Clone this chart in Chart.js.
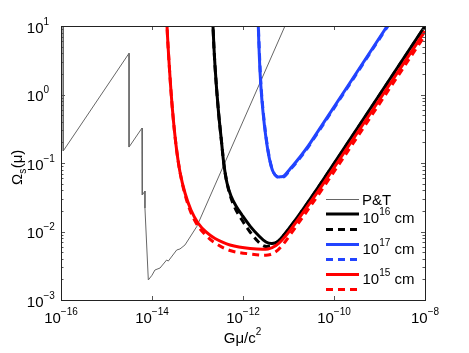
<!DOCTYPE html>
<html><head><meta charset="utf-8">
<script src="https://cdn.jsdelivr.net/npm/chart.js@4.4.1/dist/chart.umd.min.js"></script>
<style>html,body{margin:0;padding:0;background:#fff;} canvas{display:block;}</style>
</head><body>
<canvas id="c" width="469" height="353"></canvas>
<script>
// ---- tick labels ----
const xTickValues = [1e-16, 1e-14, 1e-12, 1e-10, 1e-8];
const xTickExps = ['\u221216', '\u221214', '\u221212', '\u221210', '\u22128'];
const yTickValues = [1e-3, 1e-2, 1e-1, 1, 10];
const yTickExps = ['\u22123', '\u22122', '\u22121', '0', '1'];

// ---- legend labels ----
const legendExps = ['', '16', '', '17', '', '15', ''];

// ---- series: P&T ----
const ptX = [1.12e-16, 1.12e-16, 3.13e-15, 3.13e-15, 6.03e-15, 6.12e-15, 7.0e-15, 7.0e-15, 8.3e-15, 1.0e-14, 1.16e-14, 1.5e-14, 2.1e-14, 2.28e-14, 3.49e-14, 4.12e-14, 5.31e-14, 9.6e-14, 2.43e-13, 8.37e-12];
const ptY = [10, 0.15, 4.0, 0.171, 0.324, 0.0341, 0.039, 0.022, 0.00196, 0.0023, 0.00274, 0.00293, 0.00384, 0.0037, 0.00537, 0.00556, 0.00636, 0.01175, 0.0478, 10];

// ---- series: 10^16 cm ----
const b16X = [2.15e-13, 2.19e-13, 2.43e-13, 2.87e-13, 3.40e-13, 3.82e-13, 4.45e-13, 5.45e-13, 7.02e-13, 9.5e-13, 1.43e-12, 2.14e-12, 3.2e-12, 4.34e-12, 5.88e-12, 7.57e-12, 1.08e-11, 1.79e-11, 5.73e-11, 1e-8];
const b16Y = [20, 10, 2.55, 0.594, 0.194, 0.0935, 0.0511, 0.033, 0.0236, 0.0174, 0.0120, 0.0089, 0.00703, 0.00668, 0.00715, 0.0086, 0.01164, 0.0183, 0.0565, 10];
const b16dX = [2.15e-13, 2.19e-13, 2.43e-13, 2.87e-13, 3.40e-13, 3.82e-13, 4.45e-13, 5.45e-13, 7.02e-13, 9.5e-13, 1.43e-12, 2.14e-12, 2.9e-12, 3.92e-12, 5.31e-12, 7.57e-12, 1.08e-11, 1.79e-11, 5.73e-11, 1e-8];
const b16dY = [20, 10, 2.55, 0.594, 0.194, 0.0935, 0.0511, 0.0308, 0.0206, 0.0147, 0.00984, 0.00715, 0.00614, 0.00614, 0.00679, 0.0085, 0.0115, 0.018, 0.0555, 9.85];

// ---- series: 10^17 cm ----
const b17X = [2.13e-12, 2.17e-12, 2.28e-12, 2.46e-12, 2.75e-12, 3.2e-12, 3.82e-12, 4.56e-12, 5.58e-12, 6.84e-12, 7.96e-12, 1.08e-11, 1.79e-11, 2.97e-11, 1.48e-9, 3e-9];
const b17Y = [20, 10, 3.78, 1.38, 0.556, 0.232, 0.114, 0.0751, 0.0635, 0.0629, 0.0646, 0.0817, 0.1225, 0.193, 10, 20];
const b17dX = [2.13e-12, 2.18e-12, 2.31e-12, 2.49e-12, 2.79e-12, 3.25e-12, 3.88e-12, 4.63e-12, 5.66e-12, 6.94e-12, 8.08e-12, 1.1e-11, 1.82e-11, 3.02e-11, 1.5e-9, 3e-9];
const b17dY = [20, 10, 3.7, 1.35, 0.545, 0.227, 0.112, 0.0738, 0.0624, 0.0618, 0.0635, 0.080, 0.120, 0.19, 9.8, 19.6];

// ---- series: 10^15 cm ----
const r15X = [2.12e-14, 2.14e-14, 2.43e-14, 2.82e-14, 3.37e-14, 4.12e-14, 5.31e-14, 7.19e-14, 1.026e-13, 1.54e-13, 2.43e-13, 5.17e-13, 1.43e-12, 3.54e-12, 5.31e-12, 7.57e-12, 1.08e-11, 5.73e-11, 1e-8];
const r15Y = [20, 10, 2.28, 0.594, 0.183, 0.074, 0.0365, 0.0206, 0.0133, 0.00984, 0.0079, 0.00636, 0.00565, 0.00556, 0.00625, 0.00778, 0.01035, 0.0493, 8.4];
const r15dX = [2.12e-14, 2.14e-14, 2.43e-14, 2.82e-14, 3.37e-14, 4.12e-14, 5.31e-14, 7.19e-14, 1.026e-13, 1.54e-13, 2.43e-13, 5.17e-13, 1.43e-12, 3.54e-12, 5.31e-12, 7.57e-12, 1.08e-11, 5.73e-11, 1e-8];
const r15dY = [20, 10, 2.28, 0.594, 0.183, 0.074, 0.0346, 0.0189, 0.0120, 0.00875, 0.00679, 0.00528, 0.0047, 0.00454, 0.0051, 0.00646, 0.0089, 0.0431, 7.3];

const pts = (xs, ys) => xs.map((x, i) => ({x, y: ys[i]}));

const FONT = '"Liberation Sans", Arial, Helvetica, sans-serif';
const fnt = s => s + 'px ' + FONT;
const BLUE = '#2244ff', RED = '#ff0000', GRAY = '#666666';

function drawPow(ctx, x, y, base, exp, suffix) {
  ctx.textAlign = 'left'; ctx.textBaseline = 'alphabetic';
  ctx.font = fnt(15); ctx.fillText(base, x, y);
  let w = ctx.measureText(base).width;
  ctx.font = fnt(10); ctx.fillText(exp, x + w, y - 8);
  w += ctx.measureText(exp).width;
  if (suffix) { ctx.font = fnt(15); ctx.fillText(suffix, x + w, y); w += ctx.measureText(suffix).width; }
  return w;
}
function powWidth(ctx, base, exp) {
  ctx.font = fnt(15); let w = ctx.measureText(base).width;
  ctx.font = fnt(10); w += ctx.measureText(exp).width; return w;
}

const deco = {
  id: 'deco',
  afterDraw(chart) {
    const {ctx, chartArea: a, scales: {x: xs, y: ys}} = chart;
    ctx.save();
    // ticks
    ctx.strokeStyle = '#555'; ctx.lineWidth = 1; ctx.setLineDash([]);
    ctx.beginPath();
    xTickValues.forEach(v => {
      const px = Math.round(xs.getPixelForValue(v)) + 0.5;
      ctx.moveTo(px, a.bottom); ctx.lineTo(px, a.bottom - 4);
      ctx.moveTo(px, a.top); ctx.lineTo(px, a.top + 4);
    });
    for (let e = -3; e <= 1; e++) {
      for (let m = 1; m <= 9; m++) {
        const v = m * Math.pow(10, e);
        if (v > 10.0001) break;
        const py = Math.round(ys.getPixelForValue(v)) + 0.5;
        const L = m === 1 ? 4 : 2.5;
        ctx.moveTo(a.left, py); ctx.lineTo(a.left + L, py);
        ctx.moveTo(a.right, py); ctx.lineTo(a.right - L, py);
      }
    }
    ctx.stroke();
    // frame
    ctx.strokeStyle = '#222';
    ctx.strokeRect(Math.round(a.left) + 0.5, Math.round(a.top) + 0.5, Math.round(a.right - a.left), Math.round(a.bottom - a.top));
    // tick labels
    ctx.fillStyle = '#000';
    xTickValues.forEach((v, i) => {
      const px = xs.getPixelForValue(v);
      const w = powWidth(ctx, '10', xTickExps[i]);
      drawPow(ctx, px - w / 2, a.bottom + 23, '10', xTickExps[i]);
    });
    yTickValues.forEach((v, i) => {
      const py = ys.getPixelForValue(v);
      ctx.font = fnt(15);
      const w10 = ctx.measureText('10').width;
      drawPow(ctx, 43.5 - w10, py + 6.5, '10', yTickExps[i]);
    });
    // x title
    ctx.font = fnt(15);
    const tw = ctx.measureText('G\u03bc/c').width; ctx.font = fnt(10);
    const tw2 = tw + ctx.measureText('2').width;
    const tx = 242.5 - tw2 / 2;
    ctx.font = fnt(15); ctx.fillText('G\u03bc/c', tx, 343);
    ctx.font = fnt(10); ctx.fillText('2', tx + tw, 335);
    // y title
    ctx.save();
    ctx.translate(22, 185); ctx.rotate(-Math.PI / 2);
    ctx.font = fnt(15); ctx.fillText('\u03a9', 0, 0);
    let w = ctx.measureText('\u03a9').width;
    ctx.font = fnt(10); ctx.fillText('s', w, 3.5); w += ctx.measureText('s').width + 0.5;
    ctx.font = fnt(15); ctx.fillText('(\u03bc)', w, 0);
    ctx.restore();
    // legend
    const ds = chart.data.datasets;
    const rowY = [199.5, 214, 229.5, 244.5, 259.5, 274.5, 289.5];
    ds.forEach((d, i) => {
      const y = rowY[i];
      ctx.strokeStyle = d.borderColor; ctx.lineWidth = d.borderWidth;
      ctx.setLineDash(d.borderDash || []);
      ctx.beginPath(); ctx.moveTo(326, y); ctx.lineTo(359, y); ctx.stroke();
    });
    ctx.setLineDash([]);
    ctx.fillStyle = '#000';
    ctx.font = fnt(15); ctx.fillText(ds[0].label, 362, 205);
    [[1, 223], [3, 253.5], [5, 283.5]].forEach(([i, by]) => {
      drawPow(ctx, 362.5, by, '10', legendExps[i], ' cm');
    });
    ctx.restore();
  }
};

const common = {pointRadius: 0, fill: false, clip: 0, borderJoinStyle: 'round'};
const curve = {...common, borderWidth: 3, tension: 0.35};
new Chart(document.getElementById('c'), {
  type: 'line',
  data: {
    datasets: [
      {...common, label: 'P&T', data: pts(ptX, ptY), borderColor: GRAY, borderWidth: 1, tension: 0, order: 7},
      {...curve, label: '10^16 cm', data: pts(b16X, b16Y), borderColor: '#000', order: 6},
      {...curve, label: '', data: pts(b16dX, b16dY), borderColor: '#000', borderDash: [7, 5], order: 5},
      {...curve, label: '10^17 cm', data: pts(b17X, b17Y), borderColor: BLUE, order: 4},
      {...curve, label: '', data: pts(b17dX, b17dY), borderColor: BLUE, borderDash: [7, 5], order: 3},
      {...curve, label: '10^15 cm', data: pts(r15X, r15Y), borderColor: RED, order: 2},
      {...curve, label: '', data: pts(r15dX, r15dY), borderColor: RED, borderDash: [7, 5], order: 1}
    ]
  },
  options: {
    responsive: false, animation: false, devicePixelRatio: 1,
    layout: {padding: {left: 61, right: 44, top: 26, bottom: 53}},
    plugins: {legend: {display: false}, tooltip: {enabled: false}},
    scales: {
      x: {type: 'logarithmic', display: false, min: 1e-16, max: 1e-8},
      y: {type: 'logarithmic', display: false, min: 1e-3, max: 10}
    }
  },
  plugins: [deco]
});
</script>
</body></html>
